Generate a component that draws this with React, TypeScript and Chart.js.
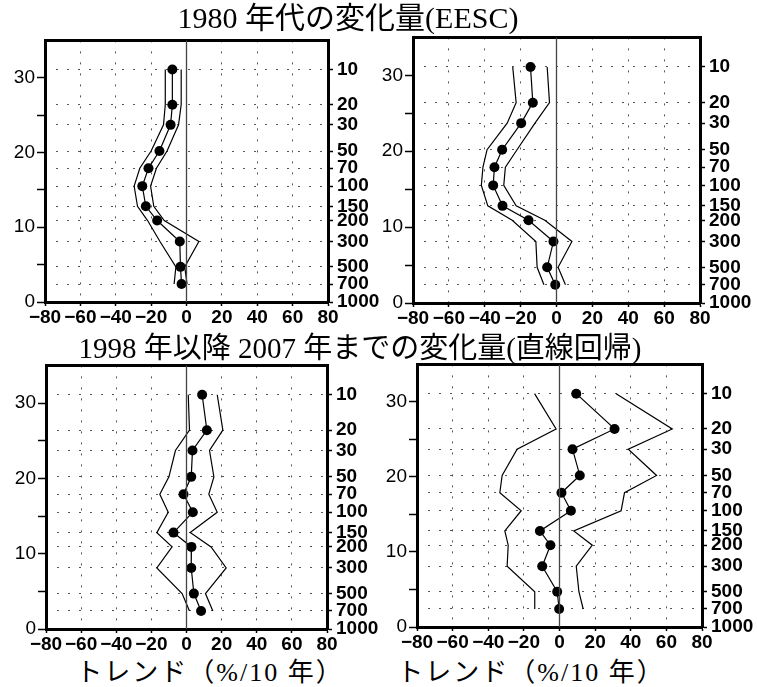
import React, { useEffect, useRef } from "react";
import { Chart, registerables } from "chart.js";

Chart.register(...registerables);

// Pressure levels (hPa) of the data points and their approximate altitude (km)
const pressureLevels = [10, 20, 30, 50, 70, 100, 150, 200, 300, 500, 700];
const altitudeKm = [31.1, 26.4, 23.7, 20.2, 17.9, 15.5, 12.8, 10.9, 8.1, 4.7, 2.4];

// Right-axis tick labels (ascending altitude)
const rightTickPressures = [1000, 700, 500, 300, 200, 150, 100, 70, 50, 30, 20, 10];
const rightTickAltitudes = [0, 2.4, 4.7, 8.1, 10.9, 12.8, 15.5, 17.9, 20.2, 23.7, 26.4, 31.1];

// Axis ticks
const xTickValues = [-80, -60, -40, -20, 0, 20, 40, 60, 80];
const leftTickValues = [0, 5, 10, 15, 20, 25, 30, 35];

// Titles
const topTitle = "1980 年代の変化量(EESC)";
const bottomTitle = "1998 年以降 2007 年までの変化量(直線回帰)";
const xAxisTitle = "トレンド（%/10 年）";

// Panel 1: 1980s change (EESC), left
const p1Trend = [-8, -8, -9, -15.3, -21.5, -25, -23, -16.6, -3.8, -3.4, -2.8];
const p1Lower = [-12, -12, -13, -20, -26.4, -29.6, -27.7, -22, -15, -6, -7];
const p1Upper = [-3, -3, -4.5, -11, -17, -20.3, -18.5, -12.6, 7, -1, 0.3];

// Panel 2: 1980s change (EESC), right
const p2Trend = [-14.5, -13.2, -19.7, -30.3, -34.6, -35.3, -30.1, -15.6, -1.7, -5.2, -0.7];
const p2Lower = [-24.4, -22.5, -27.5, -38.7, -41, -41.9, -38.3, -24.7, -11.5, -10.8, -7];
const p2Upper = [-5.2, -3.9, -12, -22, -28.5, -29.4, -22.5, -6.5, 8.6, 0.9, 5];

// Panel 3: 1998-2007 change (linear regression), left
const p3Trend = [8.9, 11.6, 3.4, 2.7, -1.7, 3.6, -7.4, 2.8, 2.7, 4.2, 8.3];
const p3Lower = [1, 1.7, -6.3, -10, -15.2, -10.4, -16.9, -8.2, -16.9, -2.5, 1.7];
const p3Upper = [17.5, 20.7, 13.1, 15.6, 12.7, 17.5, 2.1, 14, 22.6, 10.8, 15];

// Panel 4: 1998-2007 change (linear regression), right
const p4Trend = [9.4, 30.9, 7.3, 11.4, 1.1, 6.4, -11, -5.1, -9.7, -1.3, -0.2];
const p4Lower = [-14, -1.9, -23.8, -32.2, -33.5, -21.5, -30.7, -28.8, -29.4, -13.9, -13.9];
const p4Upper = [31.8, 63.3, 38.6, 54.5, 36.5, 34.6, 8, 18.4, 9.4, 10.9, 13.3];

type Box = { L: number; R: number; T: number; B: number };

const fmtX = (v: number) => (v < 0 ? "\u2212" + Math.abs(v) : String(v));
const sans = "Liberation Sans";

function Panel({ plot, trend, lower, upper }: { plot: Box; trend: number[]; lower: number[]; upper: number[] }) {
  const ref = useRef<HTMLCanvasElement>(null);
  const cx = plot.L - 46;
  const cy = plot.T - 14;
  const cw = plot.R + 56 - cx;
  const ch = plot.B + 26 - cy;

  useEffect(() => {
    if (!ref.current) return;
    const pts = (xs: number[]) => xs.map((x, i) => ({ x, y: altitudeKm[i] }));
    const dash = [2, 9];
    const gridColor = "#555";
    const chart = new Chart(ref.current, {
      type: "scatter",
      data: {
        datasets: [
          {
            data: [
              { x: 0, y: 0 },
              { x: 0, y: 35 },
            ],
            showLine: true,
            borderColor: "#444",
            borderWidth: 1.3,
            pointRadius: 0,
          },
          { data: pts(lower), showLine: true, borderColor: "#000", borderWidth: 1.2, pointRadius: 0 },
          { data: pts(upper), showLine: true, borderColor: "#000", borderWidth: 1.2, pointRadius: 0 },
          {
            data: pts(trend),
            showLine: true,
            borderColor: "#000",
            borderWidth: 1.2,
            pointRadius: 5,
            pointBackgroundColor: "#000",
            pointBorderColor: "#000",
            pointBorderWidth: 0,
          },
        ],
      },
      options: {
        animation: false,
        responsive: false,
        maintainAspectRatio: false,
        events: [],
        layout: { padding: 0 },
        plugins: { legend: { display: false }, tooltip: { enabled: false } },
        scales: {
          x: {
            type: "linear",
            position: "bottom",
            min: -80,
            max: 80,
            afterBuildTicks: (s: any) => {
              s.ticks = xTickValues.map((v) => ({ value: v }));
            },
            ticks: {
              autoSkip: false,
              maxRotation: 0,
              padding: 0,
              color: "#000",
              font: { family: sans, size: 19, weight: "bold" },
              callback: (v: any) => fmtX(Number(v)),
            },
            grid: {
              color: (c: any) => (Math.abs(c.tick?.value) === 80 || c.tick?.value === 0 ? "rgba(0,0,0,0)" : gridColor),
              lineWidth: 1,
              tickLength: 4,
              tickColor: "#000",
              tickWidth: 1.5,
            },
            border: { display: true, color: "#000", width: 3, dash },
            afterFit: (s: any) => {
              s.height = cy + ch - plot.B;
            },
          },
          xTop: {
            type: "linear",
            position: "top",
            min: -80,
            max: 80,
            ticks: { display: false },
            grid: { display: false },
            border: { display: true, color: "#000", width: 3 },
            afterFit: (s: any) => {
              s.height = plot.T - cy;
            },
          },
          y: {
            type: "linear",
            position: "left",
            min: 0,
            max: 35,
            afterBuildTicks: (s: any) => {
              s.ticks = leftTickValues.map((v) => ({ value: v }));
            },
            ticks: {
              autoSkip: false,
              padding: 2,
              color: "#000",
              font: { family: sans, size: 19 },
              callback: (v: any) => (Number(v) % 10 === 0 ? String(v) : ""),
            },
            grid: {
              drawOnChartArea: false,
              tickLength: 8,
              tickColor: (c: any) => (c.tick?.value === 35 ? "rgba(0,0,0,0)" : "#000"),
              tickWidth: 1.5,
            },
            border: { display: true, color: "#000", width: 3 },
            afterFit: (s: any) => {
              s.width = plot.L - cx;
            },
          },
          y2: {
            type: "linear",
            position: "right",
            min: 0,
            max: 35,
            afterBuildTicks: (s: any) => {
              s.ticks = rightTickAltitudes.map((v) => ({ value: v }));
            },
            ticks: {
              autoSkip: false,
              padding: 4,
              color: "#000",
              font: { family: sans, size: 19, weight: "bold" },
              callback: (v: any) => {
                const i = rightTickAltitudes.indexOf(Number(v));
                return i >= 0 ? String(rightTickPressures[i]) : "";
              },
            },
            grid: {
              drawOnChartArea: true,
              color: (c: any) => (c.tick?.value === 0 ? "rgba(0,0,0,0)" : gridColor),
              lineWidth: 1,
              tickLength: 5,
              tickColor: "#000",
              tickWidth: 1.5,
            },
            border: { display: true, color: "#000", width: 3, dash },
            afterFit: (s: any) => {
              s.width = cx + cw - plot.R;
            },
          },
        },
      } as any,
    });
    return () => chart.destroy();
  }, []);

  return (
    <canvas
      ref={ref}
      width={cw}
      height={ch}
      style={{ position: "absolute", left: cx, top: cy, width: cw, height: ch }}
    />
  );
}

const serif = '"Liberation Serif", "DejaVu Serif", "Noto Sans CJK JP", serif';

function Title({
  text,
  cxPos,
  top,
  size,
  spacing = 0,
}: {
  text: string;
  cxPos: number;
  top: number;
  size: number;
  spacing?: number;
}) {
  return (
    <div
      style={{
        position: "absolute",
        left: cxPos - 350,
        width: 700,
        top,
        textAlign: "center",
        fontFamily: serif,
        fontSize: size,
        lineHeight: `${size + 4}px`,
        letterSpacing: spacing,
        color: "#000",
        whiteSpace: "nowrap",
      }}
    >
      {text}
    </div>
  );
}

export default function App() {
  return (
    <div style={{ position: "absolute", left: 0, top: 0, width: 757, height: 687, background: "#fff", overflow: "hidden" }}>
      <Panel plot={{ L: 45, R: 328, T: 39, B: 302 }} trend={p1Trend} lower={p1Lower} upper={p1Upper} />
      <Panel plot={{ L: 413, R: 700, T: 36, B: 303 }} trend={p2Trend} lower={p2Lower} upper={p2Upper} />
      <Panel plot={{ L: 46, R: 327, T: 364, B: 629 }} trend={p3Trend} lower={p3Lower} upper={p3Upper} />
      <Panel plot={{ L: 417, R: 702, T: 363, B: 627 }} trend={p4Trend} lower={p4Lower} upper={p4Upper} />
      <Title text={topTitle} cxPos={348} top={1} size={30} />
      <Title text={bottomTitle} cxPos={360} top={332} size={29} />
      <Title text={xAxisTitle} cxPos={210} top={658} size={26} spacing={2} />
      <Title text={xAxisTitle} cxPos={531} top={658} size={26} spacing={2} />
    </div>
  );
}
